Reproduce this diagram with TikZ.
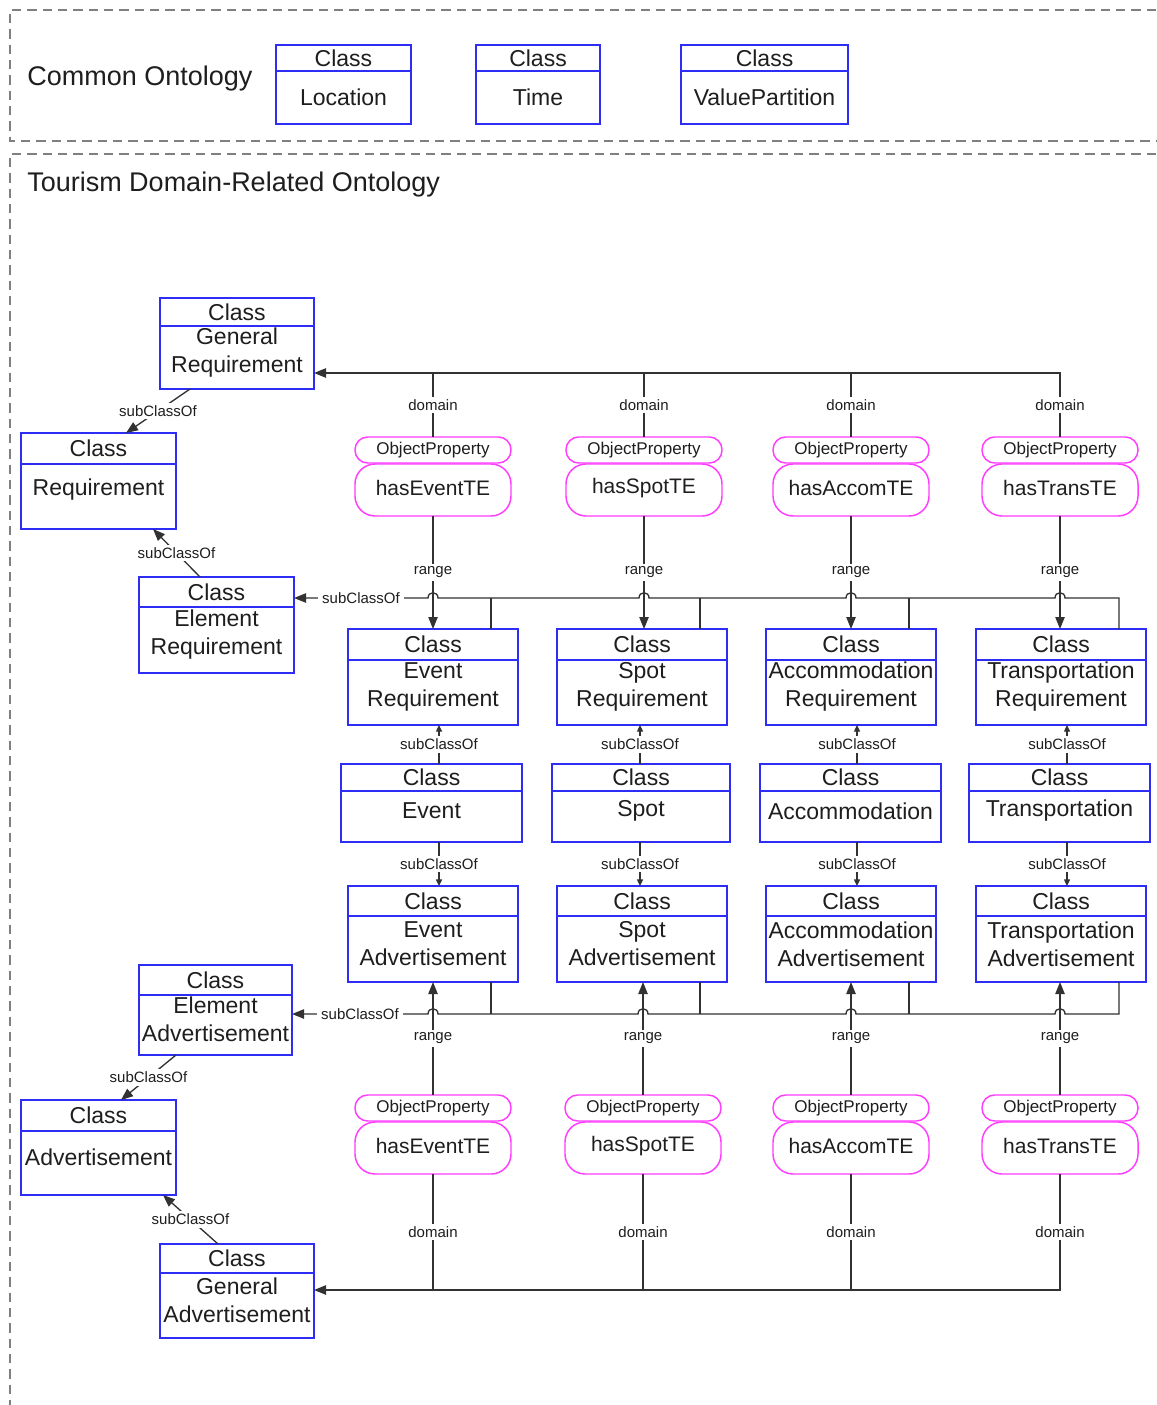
\documentclass[tikz,border=0pt]{standalone}
\usepackage{fontspec}
\setmainfont{Liberation Sans}
\usetikzlibrary{fit,calc,arrows.meta}

\definecolor{clsblue}{RGB}{45,45,245}
\definecolor{propmag}{RGB}{255,60,255}
\definecolor{linegray}{RGB}{50,50,50}
\definecolor{framegray}{RGB}{128,128,128}
\definecolor{txt}{RGB}{30,30,30}

\tikzset{
  clsframe/.style={draw=clsblue, line width=1.4pt, inner sep=0pt, outer sep=0pt, rectangle},
  clsrule/.style={draw=clsblue, line width=1.4pt},
  clstitle/.style={inner sep=0pt, text=txt, font=\fontsize{17.25}{21}\selectfont},
  clsbody/.style={inner sep=0pt, text=txt, align=center, font=\fontsize{17.25}{21}\selectfont},
  prophead/.style={draw=propmag, line width=1.1pt, rounded corners=9.5pt, inner sep=0pt, outer sep=0pt},
  propbody/.style={draw=propmag, line width=1.1pt, rounded corners=15pt, inner sep=0pt, outer sep=0pt},
  propheadtext/.style={inner sep=0pt, text=txt, font=\fontsize{12.75}{15}\selectfont},
  propbodytext/.style={inner sep=0pt, text=txt, font=\fontsize{15.75}{19}\selectfont},
  conn/.style={draw=linegray, line width=1pt},
  bigarrow/.style={-{Triangle[length=9pt,width=7pt]}},
  smallarrow/.style={-{Triangle[length=5pt,width=4.5pt]}},
  lbl/.style={fill=white, inner xsep=3pt, inner ysep=2pt, text=txt, font=\fontsize{11.25}{13}\selectfont},
  zoneframe/.style={draw=framegray, line width=1.5pt, dash pattern=on 7pt off 4.5pt},
  heading/.style={anchor=west, inner sep=0pt, text=txt, font=\fontsize{20.25}{24}\selectfont},
}

% UML-like class box: name, left, top, right, bottom, divider y, body centre y, body text
\newcommand\umlclass[8]{%
  \node[clsframe, fit={(#2,#3) (#4,#5)}] (#1) {};
  \draw[clsrule] (#2,#6) -- (#4,#6);
  \node[clstitle] (#1-title) at ({(#2+#4)/2},{(#3+#6)/2}) {Class};
  \node[clsbody] (#1-body) at ({(#2+#4)/2},#7) {#8};
}

% object property: name, centre x, top y, property name
\newcommand\objprop[4]{%
  \node[prophead, fit={({#2-78},#3) ({#2+78},{#3+26})}] (#1-h) {};
  \node[propbody, fit={({#2-78},{#3+27}) ({#2+78},{#3+79})}] (#1-b) {};
  \node[propheadtext] (#1-ht) at (#1-h.center) {ObjectProperty};
  \node[propbodytext] (#1-bt) at ($(#1-b.center)+(0,-2)$) {#4};
}

\begin{document}
\begin{tikzpicture}[x=0.75pt,y=-0.75pt]
\useasboundingbox (0,0) rectangle (1156,1405);
\fill[white] (0,0) rectangle (1156,1405);

% ontology zones
\draw[zoneframe] (1156,10) -- (10,10) -- (10,141) -- (1156,141);
\draw[zoneframe] (1156,154) -- (10,154) -- (10,1405);
\node[heading] (hcommon) at (27,79) {Common Ontology};
\node[heading] (htourism) at (27,185) {Tourism Domain-Related Ontology};

% common classes
\umlclass{Loc}{276}{45}{411}{124}{71}{97}{Location}
\umlclass{Time}{476}{45}{600}{124}{71}{97}{Time}
\umlclass{VP}{681}{45}{848}{124}{71}{97}{ValuePartition}

% requirement side
\umlclass{GR}{160}{298}{314}{389}{326}{353}{General\\Requirement}
\umlclass{Req}{21}{433}{176}{529}{464}{490}{Requirement}
\umlclass{ElR}{139}{577}{294}{673}{607}{635}{Element\\Requirement}
\umlclass{ER}{348}{629}{518}{725}{660}{687}{Event\\Requirement}
\umlclass{SR}{557}{629}{727}{725}{660}{687}{Spot\\Requirement}
\umlclass{AR}{766}{629}{936}{725}{660}{687}{Accommodation\\Requirement}
\umlclass{TR}{976}{629}{1146}{725}{660}{687}{Transportation\\Requirement}

% core classes
\umlclass{Ev}{341}{764}{522}{842}{791}{811}{Event}
\umlclass{Sp}{552}{764}{730}{842}{791}{811}{Spot}
\umlclass{Ac}{760}{764}{941}{842}{791}{811}{Accommodation}
\umlclass{Tr}{969}{764}{1150}{842}{791}{811}{Transportation}

% advertisement side
\umlclass{EA}{348}{886}{518}{982}{916}{944}{Event\\Advertisement}
\umlclass{SA}{557}{886}{727}{982}{916}{944}{Spot\\Advertisement}
\umlclass{AA}{766}{886}{936}{982}{916}{944}{Accommodation\\Advertisement}
\umlclass{TA}{976}{886}{1146}{982}{916}{944}{Transportation\\Advertisement}
\umlclass{ElA}{139}{965}{292}{1055}{995}{1019}{Element\\Advertisement}
\umlclass{Adv}{21}{1100}{176}{1195}{1131}{1157}{Advertisement}
\umlclass{GA}{160}{1244}{314}{1338}{1273}{1300}{General\\Advertisement}

% object properties
\objprop{pE}{433}{437}{hasEventTE}
\objprop{pS}{644}{437}{hasSpotTE}
\objprop{pA}{851}{437}{hasAccomTE}
\objprop{pT}{1060}{437}{hasTransTE}
\objprop{qE}{433}{1095}{hasEventTE}
\objprop{qS}{643}{1095}{hasSpotTE}
\objprop{qA}{851}{1095}{hasAccomTE}
\objprop{qT}{1060}{1095}{hasTransTE}

% bus levels
\coordinate (dbusT) at (0,373);
\coordinate (rbusT) at (0,598);
\coordinate (rbusB) at (0,1014);
\coordinate (dbusB) at (0,1290);

% domain links (requirement)
\draw[conn] (pE-h.north) -- node[lbl]{domain} (pE-h.north |- dbusT);
\draw[conn] (pS-h.north) -- node[lbl]{domain} (pS-h.north |- dbusT);
\draw[conn] (pA-h.north) -- node[lbl]{domain} (pA-h.north |- dbusT);
\draw[conn,bigarrow] (pT-h.north) -- node[lbl]{domain} (pT-h.north |- dbusT) -- (GR.east |- dbusT);

% range links (requirement)
\draw[conn,bigarrow] (pE-b.south) -- node[lbl]{range} (pE-b.south |- ER.north);
\draw[conn,bigarrow] (pS-b.south) -- node[lbl]{range} (pS-b.south |- SR.north);
\draw[conn,bigarrow] (pA-b.south) -- node[lbl]{range} (pA-b.south |- AR.north);
\draw[conn,bigarrow] (pT-b.south) -- node[lbl]{range} (pT-b.south |- TR.north);

% subClassOf bus to Element Requirement
\coordinate (erj) at ($(ER.north)+(58,0)$);
\coordinate (srj) at ($(SR.north)+(58,0)$);
\coordinate (arj) at ($(AR.north)+(58,0)$);
\coordinate (trj) at ($(TR.north)+(58,0)$);
\draw[conn] (erj) -- (erj |- rbusT);
\draw[conn] (srj) -- (srj |- rbusT);
\draw[conn] (arj) -- (arj |- rbusT);
\draw[conn,bigarrow] (trj) -- (trj |- rbusT)
  -- ($(pT-b.south |- rbusT)+(5,0)$) .. controls +(0,-7) and +(0,-7) .. ($(pT-b.south |- rbusT)+(-5,0)$)
  -- ($(pA-b.south |- rbusT)+(5,0)$) .. controls +(0,-7) and +(0,-7) .. ($(pA-b.south |- rbusT)+(-5,0)$)
  -- ($(pS-b.south |- rbusT)+(5,0)$) .. controls +(0,-7) and +(0,-7) .. ($(pS-b.south |- rbusT)+(-5,0)$)
  -- ($(pE-b.south |- rbusT)+(5,0)$) .. controls +(0,-7) and +(0,-7) .. ($(pE-b.south |- rbusT)+(-5,0)$)
  -- node[lbl]{subClassOf} (ElR.east |- rbusT);

% subClassOf between requirement, core and advertisement classes
\coordinate (sx1) at (439,0);
\coordinate (sx2) at (640,0);
\coordinate (sx3) at (857,0);
\coordinate (sx4) at (1067,0);
\draw[conn,smallarrow] (Ev.north -| sx1) -- node[lbl]{subClassOf} (ER.south -| sx1);
\draw[conn,smallarrow] (Sp.north -| sx2) -- node[lbl]{subClassOf} (SR.south -| sx2);
\draw[conn,smallarrow] (Ac.north -| sx3) -- node[lbl]{subClassOf} (AR.south -| sx3);
\draw[conn,smallarrow] (Tr.north -| sx4) -- node[lbl]{subClassOf} (TR.south -| sx4);
\draw[conn,smallarrow] (Ev.south -| sx1) -- node[lbl]{subClassOf} (EA.north -| sx1);
\draw[conn,smallarrow] (Sp.south -| sx2) -- node[lbl]{subClassOf} (SA.north -| sx2);
\draw[conn,smallarrow] (Ac.south -| sx3) -- node[lbl]{subClassOf} (AA.north -| sx3);
\draw[conn,smallarrow] (Tr.south -| sx4) -- node[lbl]{subClassOf} (TA.north -| sx4);

% range links (advertisement)
\draw[conn,bigarrow] (qE-h.north) -- node[lbl]{range} (qE-h.north |- EA.south);
\draw[conn,bigarrow] (qS-h.north) -- node[lbl]{range} (qS-h.north |- SA.south);
\draw[conn,bigarrow] (qA-h.north) -- node[lbl]{range} (qA-h.north |- AA.south);
\draw[conn,bigarrow] (qT-h.north) -- node[lbl]{range} (qT-h.north |- TA.south);

% subClassOf bus to Element Advertisement
\coordinate (eaj) at ($(EA.south)+(58,0)$);
\coordinate (saj) at ($(SA.south)+(58,0)$);
\coordinate (aaj) at ($(AA.south)+(58,0)$);
\coordinate (taj) at ($(TA.south)+(58,0)$);
\draw[conn] (eaj) -- (eaj |- rbusB);
\draw[conn] (saj) -- (saj |- rbusB);
\draw[conn] (aaj) -- (aaj |- rbusB);
\draw[conn,bigarrow] (taj) -- (taj |- rbusB)
  -- ($(qT-h.north |- rbusB)+(5,0)$) .. controls +(0,-7) and +(0,-7) .. ($(qT-h.north |- rbusB)+(-5,0)$)
  -- ($(qA-h.north |- rbusB)+(5,0)$) .. controls +(0,-7) and +(0,-7) .. ($(qA-h.north |- rbusB)+(-5,0)$)
  -- ($(qS-h.north |- rbusB)+(5,0)$) .. controls +(0,-7) and +(0,-7) .. ($(qS-h.north |- rbusB)+(-5,0)$)
  -- ($(qE-h.north |- rbusB)+(5,0)$) .. controls +(0,-7) and +(0,-7) .. ($(qE-h.north |- rbusB)+(-5,0)$)
  -- node[lbl]{subClassOf} (ElA.east |- rbusB);

% domain links (advertisement)
\draw[conn] (qE-b.south) -- node[lbl]{domain} (qE-b.south |- dbusB);
\draw[conn] (qS-b.south) -- node[lbl]{domain} (qS-b.south |- dbusB);
\draw[conn] (qA-b.south) -- node[lbl]{domain} (qA-b.south |- dbusB);
\draw[conn,bigarrow] (qT-b.south) -- node[lbl]{domain} (qT-b.south |- dbusB) -- (GA.east |- dbusB);

% left-hand subClassOf chain
\draw[conn,bigarrow] ($(GR.south west)+(30,0)$) -- node[lbl]{subClassOf} ($(Req.north west)+(105,0)$);
\draw[conn,bigarrow] ($(ElR.north west)+(61,0)$) -- node[lbl]{subClassOf} ($(Req.south west)+(132,0)$);
\draw[conn,bigarrow] ($(ElA.south west)+(37,0)$) -- node[lbl]{subClassOf} ($(Adv.north west)+(100,0)$);
\draw[conn,bigarrow] ($(GA.north west)+(58,0)$) -- node[lbl]{subClassOf} ($(Adv.south west)+(142,0)$);
\end{tikzpicture}
\end{document}
